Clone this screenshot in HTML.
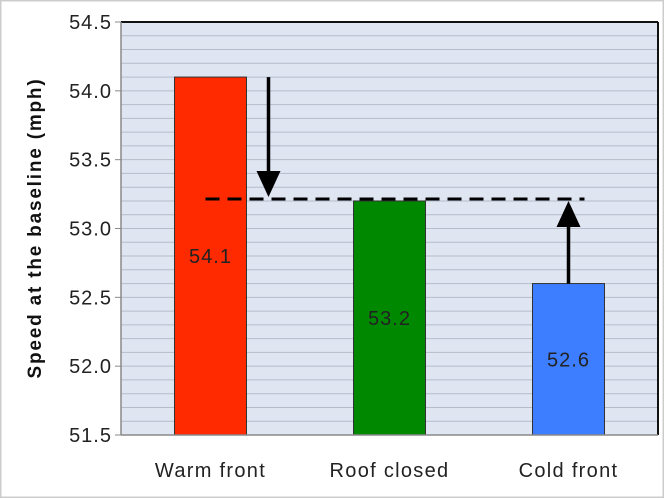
<!DOCTYPE html>
<html><head><meta charset="utf-8"><style>
html,body{margin:0;padding:0;background:#fff;}
svg{display:block;font-family:"Liberation Sans",sans-serif;}
</style></head><body>
<svg id="chart" width="664" height="498">
<rect x="0" y="0" width="664" height="498" fill="#fff" stroke="#ccc" stroke-width="3"/>
<g id="grid"></g>
<g id="bars"></g>
<g id="axes"></g>
<text transform="translate(41,228) rotate(-90)" text-anchor="middle" font-size="19" font-weight="bold" letter-spacing="1.8" fill="#111">Speed at the baseline (mph)</text>
</svg>
<script>
const categories = ["Warm front", "Roof closed", "Cold front"];
const values = [54.1, 53.2, 52.6];
const valueLabels = ["54.1", "53.2", "52.6"];
const colors = ["#ff2a00", "#008800", "#3d7dff"];
const yTicks = [51.5, 52.0, 52.5, 53.0, 53.5, 54.0, 54.5];
const baseline = 53.2;

const NS = "http://www.w3.org/2000/svg";
const L = 121, R = 658, T = 22, B = 435, yMin = 51.5, yMax = 54.5;
const y = v => B - (v - yMin) / (yMax - yMin) * (B - T);
const band = (R - L) / categories.length;
const xc = i => L + band * (i + 0.5);
const bw = 72;
function mk(tag, attrs, parent) {
  const e = document.createElementNS(NS, tag);
  for (const k in attrs) e.setAttribute(k, attrs[k]);
  parent.appendChild(e);
  return e;
}
const grid = document.getElementById('grid');
const bars = document.getElementById('bars');
const axes = document.getElementById('axes');
let r = mk('rect', {x: L, y: T, width: R - L, height: B - T, fill: '#dfe6f2'}, grid);


for (let v = yMin + 0.1; v < yMax - 0.01; v += 0.1) {
  const l = mk('line', {x1: L, x2: R, y1: y(v), y2: y(v), stroke: '#b4bccb', 'stroke-width': 1}, grid);
  
  
}
mk('line', {x1: L, x2: R, y1: T, y2: T, stroke: '#111', 'stroke-width': 2}, axes);
mk('line', {x1: R, x2: R, y1: T, y2: B, stroke: '#111', 'stroke-width': 2}, axes);
mk('line', {x1: L, x2: L, y1: T, y2: B, stroke: '#888', 'stroke-width': 1.5}, axes);
mk('line', {x1: L, x2: R, y1: B, y2: B, stroke: '#888', 'stroke-width': 1.5}, axes);
yTicks.forEach(v => {
  mk('line', {x1: L - 6, x2: L, y1: y(v), y2: y(v), stroke: '#888', 'stroke-width': 1}, axes);
  const t = mk('text', {x: L - 9, y: y(v) + 7, 'text-anchor': 'end', 'font-size': 20, 'letter-spacing': 1, fill: '#222'}, axes);
  t.textContent = v.toFixed(1);
  
  
});
categories.forEach((c, i) => {
  const b = mk('rect', {x: xc(i) - bw / 2, y: y(values[i]), width: bw, height: B - y(values[i]), fill: colors[i], stroke: '#333', 'stroke-width': 1}, bars);
  
  
  const t = mk('text', {x: xc(i), y: (y(values[i]) + B) / 2 + 7, 'text-anchor': 'middle', 'font-size': 20, 'letter-spacing': 1, fill: '#222'}, bars);
  t.textContent = valueLabels[i];
  
  
  const xl = mk('text', {x: xc(i), y: 477, 'text-anchor': 'middle', 'font-size': 20, 'letter-spacing': 1.3, fill: '#222'}, axes);
  xl.textContent = c;
  
  
});
const by = y(baseline);
const d = mk('line', {x1: xc(0) - 5, x2: xc(2) + 16, y1: by - 2, y2: by - 2, stroke: '#000', 'stroke-width': 3, 'stroke-dasharray': '14,8'}, bars);


const ax1 = xc(0) + 58, top1 = y(values[0]);
const a1 = mk('g', {}, bars);


mk('line', {x1: ax1, x2: ax1, y1: top1, y2: by - 25, stroke: '#000', 'stroke-width': 3.5}, a1);
mk('polygon', {points: `${ax1-12},${by-30} ${ax1+12},${by-30} ${ax1},${by-4}`, fill: '#000'}, a1);
const ax2 = xc(2), top2 = y(values[2]);
const a2 = mk('g', {}, bars);


mk('line', {x1: ax2, x2: ax2, y1: top2, y2: by + 22, stroke: '#000', 'stroke-width': 3.5}, a2);
mk('polygon', {points: `${ax2-12},${by+26} ${ax2+12},${by+26} ${ax2},${by}`, fill: '#000'}, a2);
</script>
</body></html>
